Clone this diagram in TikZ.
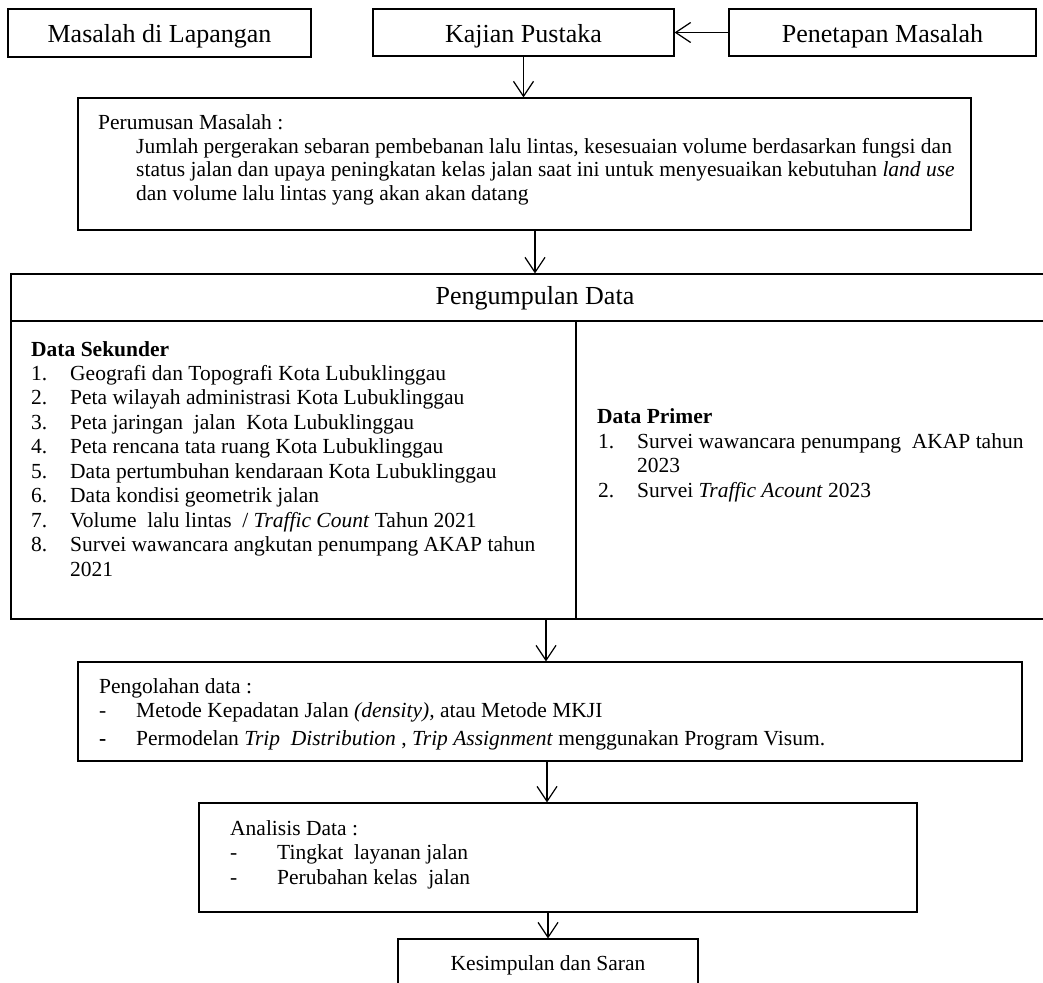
\documentclass[tikz,border=0pt]{standalone}
\usepackage{fontspec}
\setmainfont{Liberation Serif}
\usetikzlibrary{arrows.meta}

\tikzset{
  box/.style = {draw, line width=1.2pt, inner sep=0pt},
  flow/.style = {-{Straight Barb[length=15pt, width=20pt]}, line width=1.2pt},
  txt/.style = {anchor=base west, inner sep=0pt, font=\fontsize{21.5}{24}\selectfont},
  big/.style = {font=\fontsize{26}{30}\selectfont, text height=20pt, text depth=0pt}
}

\begin{document}
\begin{tikzpicture}[x=1pt, y=-1pt]
\useasboundingbox (0,0) rectangle (1043,982);
\clip (0,0) rectangle (1043,982);

% top row
\node[box, big, minimum width=303pt, minimum height=48pt] (lapangan) at (159.5,33) {Masalah di Lapangan};
\node[box, big, minimum width=301pt, minimum height=47pt] (pustaka) at (523.5,32.5) {Kajian Pustaka};
\node[box, big, minimum width=307pt, minimum height=47pt] (penetapan) at (882.5,32.5) {Penetapan Masalah};

% perumusan
\node[box, minimum width=893pt, minimum height=132pt] (rumusan) at (524.5,164) {};
\node[txt] (rumus0) at (98,129) {Perumusan Masalah :};
\node[txt] (rumus1) at (136,153) {Jumlah pergerakan sebaran pembebanan lalu lintas, kesesuaian volume berdasarkan fungsi dan};
\node[txt] (rumus2) at (136,176.5) {status jalan dan upaya peningkatan kelas jalan saat ini untuk menyesuaikan kebutuhan \textit{land use}};
\node[txt] (rumus3) at (136,200) {dan volume lalu lintas yang akan akan datang};

% pengumpulan data
\node[box, minimum width=1048pt, minimum height=345pt] (kumpul) at (535,446.5) {};
\coordinate (garis) at (0,321);
\coordinate (tengah) at (576,0);
\draw[line width=1.2pt] (kumpul.west |- garis) -- (kumpul.east |- garis);
\draw[line width=1.2pt] (tengah |- garis) -- (tengah |- kumpul.south);
\node[font=\fontsize{26}{30}\selectfont] (judul) at (535,298) {Pengumpulan Data};

\node[txt] (sekunder) at (31,356) {\textbf{Data Sekunder}};
\foreach \n/\t in {1/Geografi dan Topografi Kota Lubuklinggau,
                   2/Peta wilayah administrasi Kota Lubuklinggau,
                   3/{Peta jaringan\ \ jalan\ \ Kota Lubuklinggau},
                   4/Peta rencana tata ruang Kota Lubuklinggau,
                   5/Data pertumbuhan kendaraan Kota Lubuklinggau,
                   6/Data kondisi geometrik jalan,
                   7/{Volume\ \ lalu lintas\ \ / \textit{Traffic Count} Tahun 2021},
                   8/Survei wawancara angkutan penumpang AKAP tahun}
{
  \node[txt] (nosek\n) at (31,{380+24.5*(\n-1)}) {\n.};
  \node[txt] (sek\n) at (70,{380+24.5*(\n-1)}) {\t};
}
\node[txt] (sek9) at (70,576) {2021};

\node[txt] (primer) at (597,423) {\textbf{Data Primer}};
\node[txt] (nopri1) at (598,448) {1.};
\node[txt] (pri1) at (637,448) {Survei wawancara penumpang\ \ AKAP tahun};
\node[txt] (pri1b) at (637,472.5) {2023};
\node[txt] (nopri2) at (598,497) {2.};
\node[txt] (pri2) at (637,497) {Survei \textit{Traffic Acount} 2023};

% pengolahan
\node[box, minimum width=944pt, minimum height=99pt] (olah) at (550,711.5) {};
\node[txt] (olah0) at (99,693) {Pengolahan data :};
\node[txt] (strip1) at (99,717) {-};
\node[txt] (olah1) at (136,717) {Metode Kepadatan Jalan \textit{(density),} atau Metode MKJI};
\node[txt] (strip2) at (99,745) {\textbf{-}};
\node[txt] (olah2) at (136,745) {Permodelan \textit{Trip\ \ Distribution} , \textit{Trip Assignment} menggunakan Program Visum.};

% analisis
\node[box, minimum width=718pt, minimum height=109pt] (analisis) at (558,857.5) {};
\node[txt] (anal0) at (230,835) {Analisis Data :};
\node[txt] (strip3) at (230,859) {-};
\node[txt] (anal1) at (277,859) {Tingkat\ \ layanan jalan};
\node[txt] (strip4) at (230,884) {-};
\node[txt] (anal2) at (277,884) {Perubahan kelas\ \ jalan};

% kesimpulan
\node[box, font=\fontsize{21.5}{24}\selectfont, minimum width=300pt, minimum height=52pt] (simpul) at (548,965) {Kesimpulan dan Saran};

% arrows
\draw[flow] (penetapan.west) -- (pustaka.east);
\draw[flow] (pustaka.south) -- (pustaka.south |- rumusan.north);
\draw[flow] (rumusan.south -| kumpul.north) -- (kumpul.north);
\draw[flow] ([xshift=11pt]kumpul.south) -- ([xshift=-4pt]olah.north);
\draw[flow] ([xshift=-3pt]olah.south) -- ([xshift=-11pt]analisis.north);
\draw[flow] ([xshift=-10pt]analisis.south) -- (simpul.north);
\end{tikzpicture}
\end{document}
